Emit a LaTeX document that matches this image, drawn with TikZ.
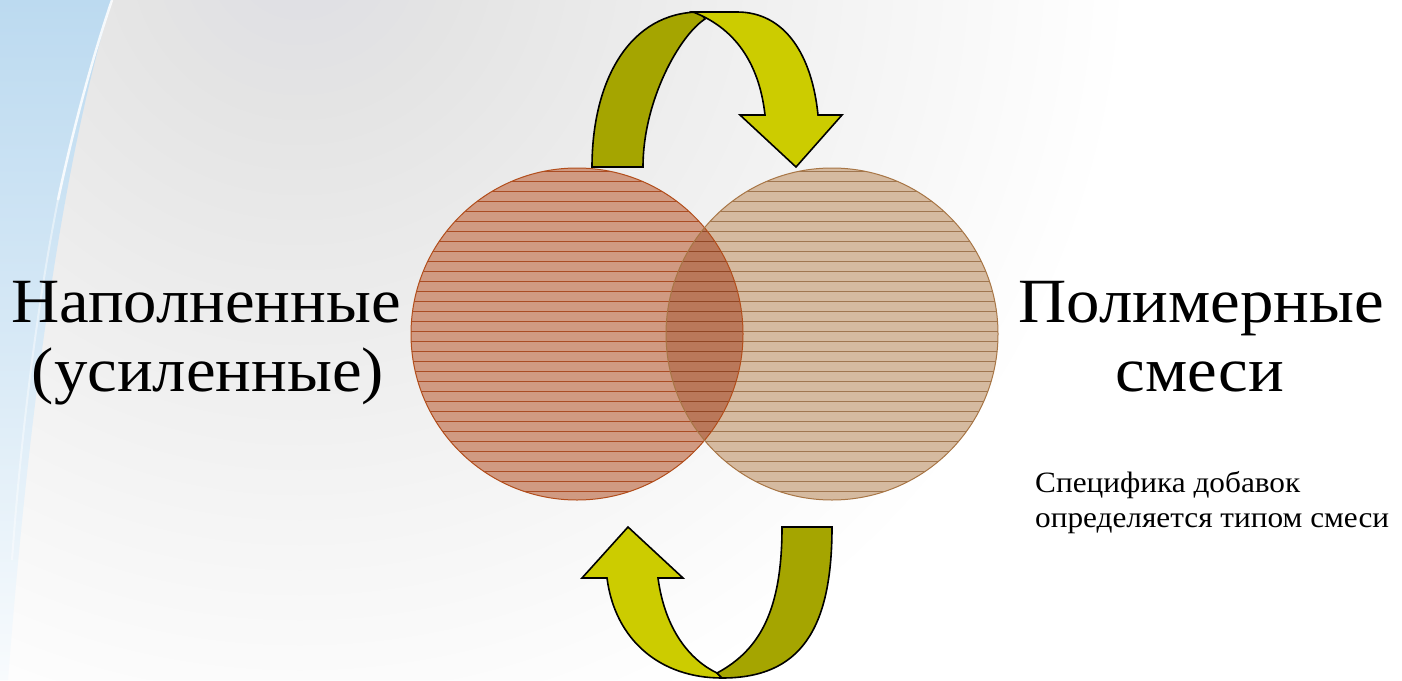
\documentclass[tikz,border=0pt]{standalone}
\usepackage{fontspec}
\setmainfont[FakeStretch=1.06]{Liberation Serif}
\begin{document}
\definecolor{leftfill}{RGB}{208,154,130}
\definecolor{leftline}{RGB}{170,76,36}
\definecolor{leftedge}{RGB}{178,78,28}
\definecolor{rightfill}{RGB}{213,186,160}
\definecolor{rightline}{RGB}{160,118,80}
\definecolor{rightedge}{RGB}{168,118,70}
\definecolor{overfill}{RGB}{186,120,90}
\definecolor{overline}{RGB}{145,70,36}
\definecolor{olivedark}{RGB}{165,165,0}
\definecolor{olivebright}{RGB}{204,204,0}
\definecolor{glow}{RGB}{212,220,228}
\definecolor{blueTop}{RGB}{188,218,240}
\definecolor{blueBot}{RGB}{248,251,253}
\begin{tikzpicture}[x=1pt,y=-1pt,
  bigtxt/.style={font=\fontsize{63}{70}\selectfont, inner sep=0pt, text=black},
  smalltxt/.style={font=\fontsize{29.5}{35}\selectfont, inner sep=0pt, text=black},
  band/.style={draw=black, line width=1.6pt, line join=miter},
  darkband/.style={band, fill=olivedark},
  brightband/.style={band, fill=olivebright},
  hatch/.style={line width=1.2pt},
  venn/.style={circle, minimum size=332pt, inner sep=0pt}]
% background
\useasboundingbox (0,0) rectangle (1402,680);
\fill[white] (0,0) rectangle (1402,680);
\begin{scope}
  \clip (0,0) rectangle (1402,680);
  \foreach \rr in {820,795,...,20} \fill[glow, opacity=0.016] (300,-50) circle (\rr pt);
  \shade[top color=blueTop, bottom color=blueBot, middle color=blueTop!55!blueBot]
    (0,0) -- (112,0) .. controls (75,120) and (35,330) .. (8,680) -- (0,680) -- cycle;
  \draw[white, line width=2.5pt, opacity=0.85]
    (112,0) .. controls (95,50) and (75,120) .. (58,200);
  \draw[white, line width=2pt, opacity=0.45]
    (58,200) .. controls (40,290) and (22,420) .. (12,560);
\end{scope}
% circles
\node[venn] (L) at (577,334) {};
\node[venn] (R) at (832,334) {};
\fill[leftfill] (L.center) circle (166pt);
\fill[rightfill] (R.center) circle (166pt);
\begin{scope}
  \clip (L.center) circle (166pt);
  \fill[overfill] (R.center) circle (166pt);
\end{scope}
\begin{scope}
  \clip (L.center) circle (166pt);
  \foreach \yy in {171.7,181.7,...,501.7} \draw[leftline, hatch] (400,\yy) -- (760,\yy);
\end{scope}
\begin{scope}
  \clip (R.center) circle (166pt);
  \foreach \yy in {171.7,181.7,...,501.7} \draw[rightline, hatch] (660,\yy) -- (1010,\yy);
  \clip (L.center) circle (166pt);
  \foreach \yy in {171.7,181.7,...,501.7} \draw[overline, hatch] (660,\yy) -- (760,\yy);
\end{scope}
\draw[leftedge, line width=1pt] (L.center) circle (166pt);
\draw[rightedge, line width=1pt] (R.center) circle (166pt);
% top curved arrow
\path[darkband] (592,167) .. controls (592,80) and (630,12) .. (700,12) -- (705,19)
  .. controls (680,35) and (643,100) .. (643,167) -- cycle;
\path[brightband] (693,12) .. controls (740,30) and (760,70) .. (765,115) -- (740,115)
  -- (796,167) -- (842,115) -- (818,115) .. controls (812,55) and (785,12) .. (737,12) -- cycle;
% bottom curved arrow
\path[brightband] (658,578) -- (683,578) -- (628,527) -- (582,578) -- (607,578)
  .. controls (615,640) and (660,678) .. (722,678) -- (717,673)
  .. controls (690,660) and (665,630) .. (658,578) -- cycle;
\path[darkband] (782,527) -- (832,527) .. controls (832,630) and (800,678) .. (722,678)
  -- (717,673) .. controls (760,650) and (782,610) .. (782,527) -- cycle;
% texts
\node[bigtxt, anchor=base] (l1) at (206,322) {Наполненные};
\node[bigtxt, anchor=base] (l2) at (208,391) {(усиленные)};
\node[bigtxt, anchor=base] (r1) at (1201,322) {Полимерные};
\node[bigtxt, anchor=base] (r2) at (1200,391) {смеси};
\node[smalltxt, anchor=base west] (n1) at (1035,492) {Специфика добавок};
\node[smalltxt, anchor=base west] (n2) at (1035,527) {определяется типом смеси};
\end{tikzpicture}
\end{document}
